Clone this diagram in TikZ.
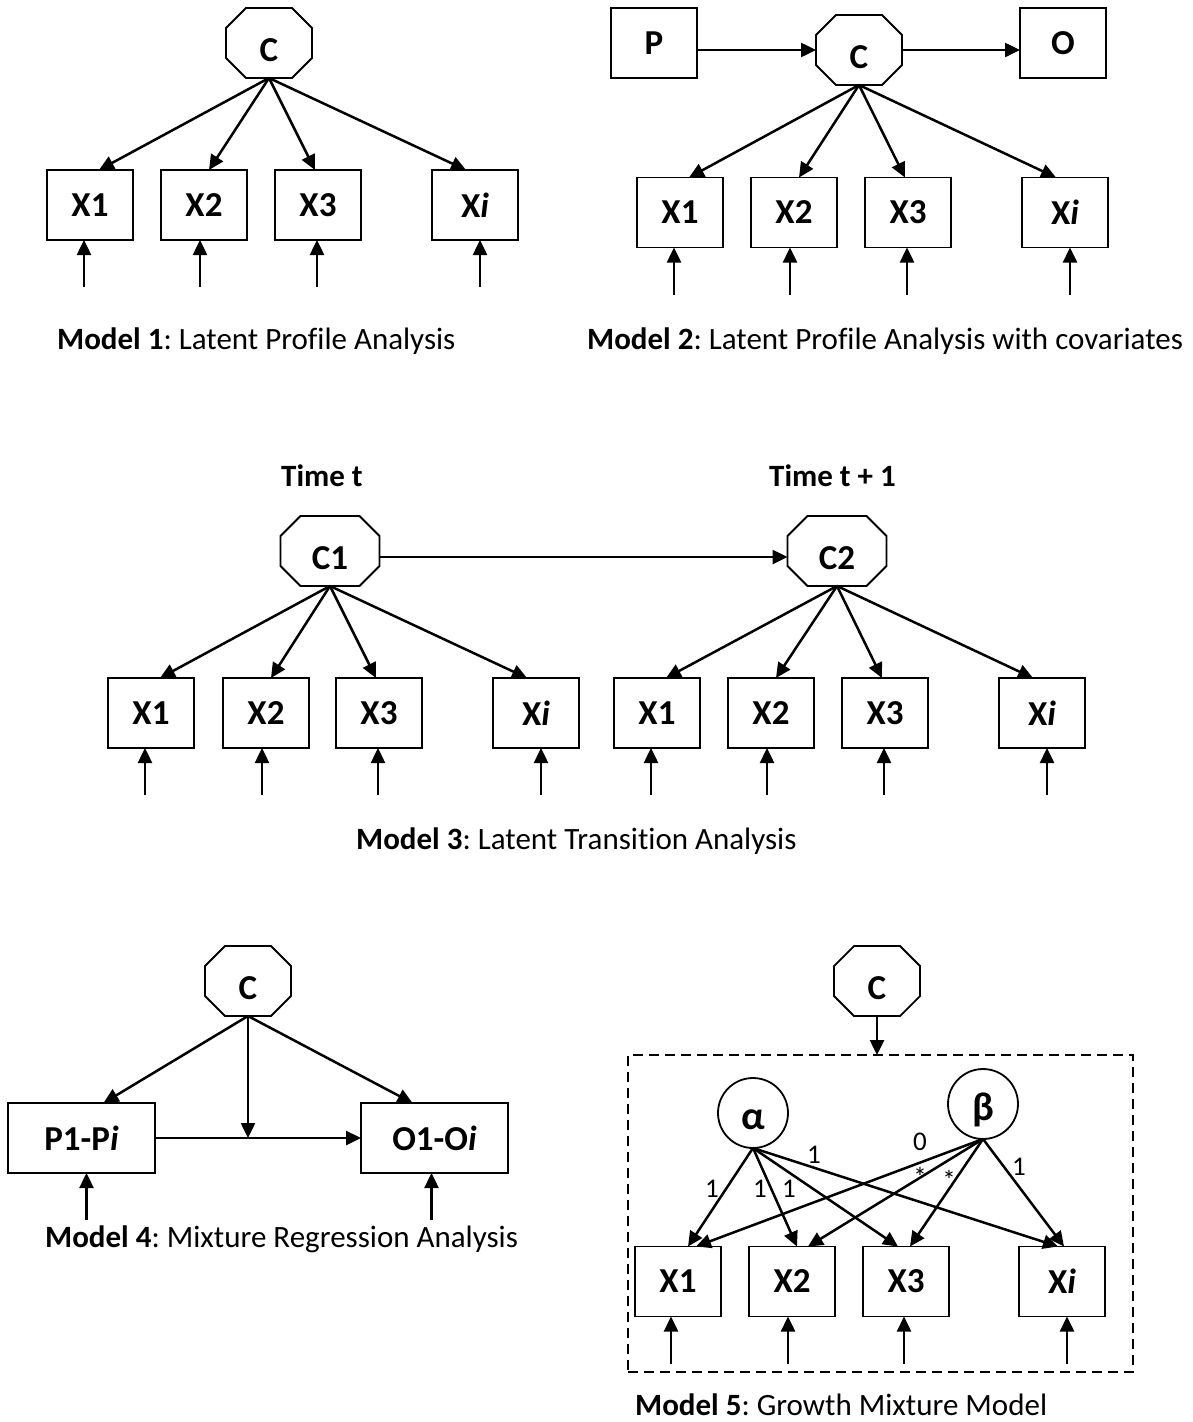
\documentclass[tikz,border=0pt]{standalone}
\usepackage{fontspec}
\setmainfont{Carlito}[Ligatures=CommonOff]
\usetikzlibrary{arrows.meta}
\frenchspacing

\tikzset{
  >={Triangle[length=15pt,width=14pt]},
  box/.style={draw, line width=1.8pt, rectangle, minimum width=86pt,
    minimum height=70pt, inner sep=0pt, outer sep=0pt,
    font=\fontsize{35}{40}\selectfont\bfseries},
  wide box/.style={box, minimum width=147pt},
  octnode/.style={rectangle, minimum width=86pt, minimum height=70pt,
    inner sep=0pt, outer sep=0pt, text height=36pt, text depth=0pt,
    font=\fontsize{35}{40}\selectfont\bfseries},
  octline/.style={line width=1.8pt, line join=miter},
  latent/.style={circle, draw, line width=1.8pt, minimum size=70pt,
    inner sep=0pt, outer sep=0pt, text height=33pt, text depth=0pt,
    font=\fontsize{40}{48}\selectfont\bfseries},
  frame/.style={draw, dash pattern=on 10pt off 6pt, line width=1.8pt,
    inner sep=0pt, outer sep=0pt},
  arr/.style={->, line width=2.5pt},
  err/.style={<-, line width=2.5pt},
  caption/.style={anchor=base west, inner sep=0pt,
    font=\fontsize{31}{37}\selectfont},
  timelabel/.style={anchor=base west, inner sep=0pt,
    font=\fontsize{31}{37}\selectfont\bfseries},
  coef/.style={anchor=base, inner sep=0pt, font=\fontsize{27}{32}\selectfont},
}

\begin{document}
\begin{tikzpicture}[x=1pt,y=-1pt]
\useasboundingbox (0,0) rectangle (1192,1422);

% ---------- Model 1: latent profile analysis ----------
\node[octnode] (m1c) at (269,43) {C};
\node[box] (m1x1) at (90,205) {X1};
\node[box] (m1x2) at (204,205) {X2};
\node[box] (m1x3) at (318,205) {X3};
\node[box] (m1xi) at (475,205) {X\textit{i}};
\draw[arr] (m1c.south) -- ([xshift=9pt]m1x1.north);
\draw[arr] (m1c.south) -- ([xshift=5pt]m1x2.north);
\draw[arr] (m1c.south) -- ([xshift=-3pt]m1x3.north);
\draw[arr] (m1c.south) -- ([xshift=-9pt]m1xi.north);
\draw[err] ([xshift=-6pt]m1x1.south) -- ++(0pt,-47pt);
\draw[err] ([xshift=-4pt]m1x2.south) -- ++(0pt,-47pt);
\draw[err] ([xshift=-1pt]m1x3.south) -- ++(0pt,-47pt);
\draw[err] ([xshift=5pt]m1xi.south) -- ++(0pt,-47pt);
\node[caption] (m1cap) at (57,349) {\textbf{Model 1}: Latent Profile Analysis};

% ---------- Model 2: with covariates ----------
\node[box] (m2p) at (654,43) {P};
\node[octnode] (m2c) at (859,50) {C};
\node[box] (m2o) at (1063,43) {O};
\node[box] (m2x1) at (680,212.5) {X1};
\node[box] (m2x2) at (794,212.5) {X2};
\node[box] (m2x3) at (908,212.5) {X3};
\node[box] (m2xi) at (1065,212.5) {X\textit{i}};
\draw[arr] (m2p.east |- m2c.west) -- (m2c.west);
\draw[arr] (m2c.east) -- (m2c.east -| m2o.west);
\draw[arr] (m2c.south) -- ([xshift=9pt]m2x1.north);
\draw[arr] (m2c.south) -- ([xshift=5pt]m2x2.north);
\draw[arr] (m2c.south) -- ([xshift=-3pt]m2x3.north);
\draw[arr] (m2c.south) -- ([xshift=-9pt]m2xi.north);
\draw[err] ([xshift=-6pt]m2x1.south) -- ++(0pt,-47pt);
\draw[err] ([xshift=-4pt]m2x2.south) -- ++(0pt,-47pt);
\draw[err] ([xshift=-1pt]m2x3.south) -- ++(0pt,-47pt);
\draw[err] ([xshift=5pt]m2xi.south) -- ++(0pt,-47pt);
\node[caption] (m2cap) at (587,349) {\textbf{Model 2}: Latent Profile Analysis with covariates};

% ---------- Model 3: latent transition analysis ----------
\node[timelabel] (m3t1) at (281,486) {Time t};
\node[timelabel] (m3t2) at (769,486) {Time t + 1};
\node[octnode, minimum width=99pt] (m3a) at (330,551) {C1};
\node[octnode, minimum width=99pt] (m3b) at (837,551) {C2};
\draw[arr] ([yshift=-6pt]m3a.east) -- ([yshift=-6pt]m3b.west);
\node[box] (m3a1) at (151,713) {X1};
\node[box] (m3a2) at (266,713) {X2};
\node[box] (m3a3) at (379,713) {X3};
\node[box] (m3ai) at (536,713) {X\textit{i}};
\node[box] (m3b1) at (657,713) {X1};
\node[box] (m3b2) at (771,713) {X2};
\node[box] (m3b3) at (885,713) {X3};
\node[box] (m3bi) at (1042,713) {X\textit{i}};
\foreach \g in {m3a, m3b}{
  \draw[arr] (\g.south) -- ([xshift=9pt]\g1.north);
  \draw[arr] (\g.south) -- ([xshift=5pt]\g2.north);
  \draw[arr] (\g.south) -- ([xshift=-3pt]\g3.north);
  \draw[arr] (\g.south) -- ([xshift=-9pt]\g i.north);
  \draw[err] ([xshift=-6pt]\g1.south) -- ++(0pt,-47pt);
  \draw[err] ([xshift=-4pt]\g2.south) -- ++(0pt,-47pt);
  \draw[err] ([xshift=-1pt]\g3.south) -- ++(0pt,-47pt);
  \draw[err] ([xshift=5pt]\g i.south) -- ++(0pt,-47pt);
}
\node[caption] (m3cap) at (356,849) {\textbf{Model 3}: Latent Transition Analysis};

% ---------- Model 4: mixture regression ----------
\node[octnode] (m4c) at (248,981) {C};
\node[wide box] (m4p) at (81.5,1138) {P1-P\textit{i}};
\node[wide box] (m4o) at (434.5,1138) {O1-O\textit{i}};
\coordinate (m4m) at (m4c.south |- m4p.east);
\draw[arr] (m4c.south) -- ([xshift=22pt]m4p.north);
\draw[arr] (m4c.south) -- ([xshift=-22pt]m4o.north);
\draw[arr] (m4p.east) -- (m4o.west);
\draw[arr] (m4c.south) -- (m4m);
\draw[err] ([xshift=5pt]m4p.south) -- ++(0pt,-47pt);
\draw[err] ([xshift=-3pt]m4o.south) -- ++(0pt,-47pt);
\node[caption] (m4cap) at (45,1247) {\textbf{Model 4}: Mixture Regression Analysis};

% ---------- Model 5: growth mixture model ----------
\node[octnode] (m5c) at (877,981) {C};
\node[frame, minimum width=505pt, minimum height=317pt] (m5f) at (880.5,1213.5) {};
\draw[arr] (m5c.south) -- (m5c.south |- m5f.north);
\node[latent] (m5a) at (753,1113) {α};
\node[latent] (m5b) at (983,1104) {β};
\node[box] (m5x1) at (678,1281.5) {X1};
\node[box] (m5x2) at (792,1281.5) {X2};
\node[box] (m5x3) at (906,1281.5) {X3};
\node[box] (m5xi) at (1062,1281.5) {X\textit{i}};
\draw[arr] (m5a.south) -- ([xshift=10pt]m5x1.north);
\draw[arr] (m5a.south) -- ([xshift=5pt]m5x2.north);
\draw[arr] (m5a.south) -- ([xshift=-8pt]m5x3.north);
\draw[arr] (m5a.south) -- ([xshift=-4pt]m5xi.north);
\draw[arr] (m5b.south) -- ([xshift=18pt]m5x1.north);
\draw[arr] (m5b.south) -- ([xshift=16pt]m5x2.north);
\draw[arr] (m5b.south) -- ([xshift=4pt]m5x3.north);
\draw[arr] (m5b.south) -- ([xshift=2pt]m5xi.north);
\draw[err] ([xshift=-7pt]m5x1.south) -- ++(0pt,-47pt);
\draw[err] ([xshift=-4pt]m5x2.south) -- ++(0pt,-47pt);
\draw[err] ([xshift=-2pt]m5x3.south) -- ++(0pt,-47pt);
\draw[err] ([xshift=5pt]m5xi.south) -- ++(0pt,-47pt);
\node[coef] (k1) at (712,1197) {1};
\node[coef] (k2) at (760,1197) {1};
\node[coef] (k3) at (789,1197) {1};
\node[coef] (k4) at (814,1163) {1};
\node[coef] (k5) at (920,1150) {0};
\node[coef] (k6) at (920,1186) {*};
\node[coef] (k7) at (949,1189) {*};
\node[coef] (k8) at (1019,1175) {1};
\node[caption] (m5cap) at (635,1415) {\textbf{Model 5}: Growth Mixture Model};

% ---------- octagon outlines of the class nodes ----------
\foreach \n in {m1c, m2c, m3a, m3b, m4c, m5c}{
  \draw[octline] ([xshift=20pt]\n.north west) -- ([xshift=-20pt]\n.north east)
    -- ([yshift=-20pt]\n.north east) -- ([yshift=20pt]\n.south east)
    -- ([xshift=-20pt]\n.south east) -- ([xshift=20pt]\n.south west)
    -- ([yshift=20pt]\n.south west) -- ([yshift=-20pt]\n.north west) -- cycle;
}
\end{tikzpicture}
\end{document}
